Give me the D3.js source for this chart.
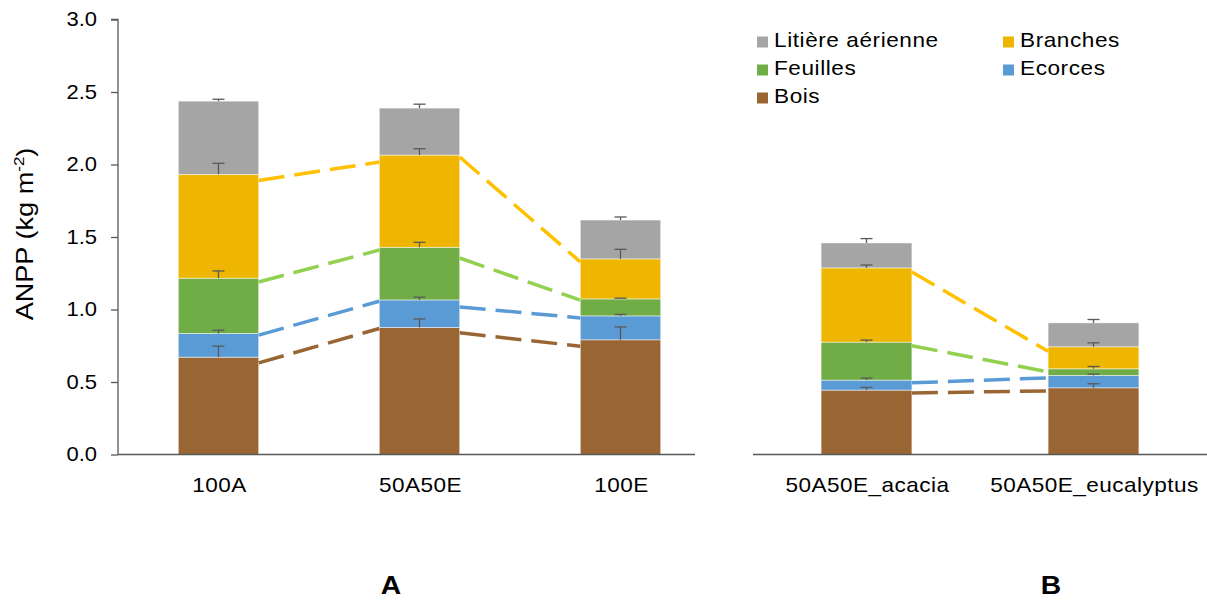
<!DOCTYPE html>
<html>
<head>
<meta charset="utf-8">
<script src="https://cdn.jsdelivr.net/npm/d3@7"></script>
<style>
  body { margin: 0; background: #fff; }
  text { font-family: "Liberation Sans", Arial, sans-serif; fill: #000; }
</style>
</head>
<body>
<svg id="chart" width="1207" height="600"></svg>
<script>
// ---------------- DATA ----------------
const seriesNames = ["Bois", "Ecorces", "Feuilles", "Branches", "Litière aérienne"];
const barColors   = ["#996633", "#5B9BD5", "#70AD47", "#EEB600", "#A5A5A5"];
const lineColors  = ["#996633", "#5B9BD5", "#92D050", "#FFC000", null];

const categoriesA = ["100A", "50A50E", "100E"];
const categoriesB = ["50A50E_acacia", "50A50E_eucalyptus"];

// segment heights (kg m-2), per series, per category
const boisA      = [0.671, 0.876, 0.791];
const ecorcesA   = [0.164, 0.190, 0.165];
const feuillesA  = [0.381, 0.363, 0.117];
const branchesA  = [0.716, 0.636, 0.276];
const litiereA   = [0.505, 0.324, 0.268];

const boisB      = [0.444, 0.460];
const ecorcesB   = [0.069, 0.085];
const feuillesB  = [0.262, 0.046];
const branchesB  = [0.512, 0.152];
const litiereB   = [0.172, 0.165];

// plus error bars
const errBoisA     = [0.076, 0.059, 0.089];
const errEcorcesA  = [0.022, 0.019, 0.010];
const errFeuillesA = [0.050, 0.034, 0.005];
const errBranchesA = [0.076, 0.044, 0.066];
const errLitiereA  = [0.013, 0.027, 0.021];

const errBoisB     = [0.019, 0.028];
const errEcorcesB  = [0.014, 0.009];
const errFeuillesB = [0.014, 0.016];
const errBranchesB = [0.020, 0.027];
const errLitiereB  = [0.030, 0.023];

// dashed connectors: [value at right edge of bar i, value at left edge of bar i+1]
const connBoisA     = [[0.632, 0.869], [0.839, 0.747]];
const connEcorcesA  = [[0.823, 1.057], [1.018, 0.942]];
const connFeuillesA = [[1.190, 1.410], [1.355, 1.064]];
const connBranchesA = [[1.890, 2.017], [2.052, 1.328]];

const connBoisB     = [[0.424, 0.439]];
const connEcorcesB  = [[0.494, 0.529]];
const connFeuillesB = [[0.750, 0.570]];
const connBranchesB = [[1.259, 0.712]];

const yTicks = [0, 0.5, 1.0, 1.5, 2.0, 2.5, 3.0];
const legendOrder = [4, 3, 2, 1, 0]; // Litière, Branches, Feuilles, Ecorces, Bois

// ---------------- DRAW ----------------
const svg = d3.select("#chart");
svg.append("rect").attr("width", 1207).attr("height", 600).attr("fill", "#fff");

const y = d3.scaleLinear().domain([0, 3]).range([454.5, 19.5]);
const axisColor = "#595959";
const SX = 1.13; // horizontal glyph stretch of the reference

function label(parent, x, yy, txt, size, anchor, spacing, bold) {
  return parent.append("text")
    .attr("transform", `translate(${x},${yy}) scale(${SX},1)`)
    .attr("text-anchor", anchor)
    .style("font-size", size + "px")
    .style("letter-spacing", spacing + "px")
    .style("font-weight", bold ? "bold" : "normal")
    .text(txt);
}

function panel(cats, values, errs, conns, range, lineEnd, showYAxis, labelTxt, labelX) {
  const x = d3.scaleBand().domain(cats).range(range).paddingInner(0.6).paddingOuter(0.3);
  const g = svg.append("g");

  const rows = cats.map((c, i) => {
    const o = { cat: c };
    seriesNames.forEach((s, k) => { o[s] = values[k][i]; });
    return o;
  });
  const stacked = d3.stack().keys(seriesNames)(rows);

  // bars
  stacked.forEach((layer, k) => {
    g.selectAll(null).data(layer).enter().append("rect")
      .attr("x", d => x(d.data.cat))
      .attr("width", x.bandwidth())
      .attr("y", d => y(d[1]))
      .attr("height", d => y(d[0]) - y(d[1]))
      .attr("fill", barColors[k])
      .attr("stroke", "#ffffff")
      .attr("stroke-opacity", 0.6)
      .attr("stroke-width", 0.8);
  });

  // baseline
  g.append("line")
    .attr("x1", range[0]).attr("x2", lineEnd)
    .attr("y1", y(0)).attr("y2", y(0))
    .attr("stroke", axisColor).attr("stroke-width", 1.6);

  // error bars
  stacked.forEach((layer, k) => {
    layer.forEach((d, i) => {
      const cx = x(d.data.cat) + x.bandwidth() / 2;
      const top = y(d[1]);
      const cap = y(d[1] + errs[k][i]);
      g.append("line").attr("x1", cx).attr("x2", cx).attr("y1", top).attr("y2", cap)
        .attr("stroke", axisColor).attr("stroke-width", 1.3);
      g.append("line").attr("x1", cx - 6).attr("x2", cx + 6).attr("y1", cap).attr("y2", cap)
        .attr("stroke", axisColor).attr("stroke-width", 1.3);
    });
  });

  // dashed connectors
  conns.forEach((segs, k) => {
    segs.forEach((v, i) => {
      g.append("line")
        .attr("x1", x(cats[i]) + x.bandwidth())
        .attr("x2", x(cats[i + 1]))
        .attr("y1", y(v[0]))
        .attr("y2", y(v[1]))
        .attr("stroke", lineColors[k])
        .attr("stroke-width", 3.5)
        .attr("stroke-dasharray", "26,10");
    });
  });

  // category labels
  cats.forEach(c => {
    label(g, x(c) + x.bandwidth() / 2 + 1, 492, c, 20, "middle", 0.4, false);
  });

  // panel letter
  label(svg, labelX, 594, labelTxt, 25, "middle", 0, true);

  if (showYAxis) {
    const ax = svg.append("g")
      .attr("transform", `translate(${range[0]},0)`)
      .call(d3.axisLeft(y).tickValues(yTicks).tickFormat(d3.format(".1f")).tickSize(7).tickPadding(13));
    ax.select(".domain").attr("stroke", axisColor).attr("stroke-width", 1.3)
      .attr("d", `M-7,${y(3)}H0V${y(0)}`);
    ax.selectAll(".tick line").attr("stroke", axisColor).attr("stroke-width", 1.3);
    ax.selectAll(".tick text")
      .attr("x", null)
      .attr("transform", "translate(-21,0) scale(1.1,1)")
      .style("font-size", "20px")
      .style("font-family", "'Liberation Sans', Arial, sans-serif")
      .attr("fill", "#000");
  }
}

panel(categoriesA,
  [boisA, ecorcesA, feuillesA, branchesA, litiereA],
  [errBoisA, errEcorcesA, errFeuillesA, errBranchesA, errLitiereA],
  [connBoisA, connEcorcesA, connFeuillesA, connBranchesA],
  [118, 721], 695, true, "A", 391);

panel(categoriesB,
  [boisB, ecorcesB, feuillesB, branchesB, litiereB],
  [errBoisB, errEcorcesB, errFeuillesB, errBranchesB, errLitiereB],
  [connBoisB, connEcorcesB, connFeuillesB, connBranchesB],
  [753, 1207], 1207, false, "B", 1051);

// y-axis title
const yt = svg.append("text")
  .attr("transform", `translate(33,234) rotate(-90) scale(${SX},1)`)
  .attr("text-anchor", "middle")
  .style("font-size", "24px");
yt.append("tspan").text("ANPP (kg m");
yt.append("tspan").text("-2").style("font-size", "15px").attr("dy", "-9");
yt.append("tspan").text(")").attr("dy", "9");

// legend
const legCols = [757, 1003];
const legRows = [47, 75, 103];
legendOrder.forEach((k, idx) => {
  const cx = legCols[idx % 2];
  const cy = legRows[Math.floor(idx / 2)];
  svg.append("rect").attr("x", cx).attr("y", cy - 10.5).attr("width", 11).attr("height", 11)
    .attr("fill", barColors[k]);
  label(svg, cx + 17, cy, seriesNames[k], 20, "start", 0.5, false);
});
</script>
</body>
</html>
